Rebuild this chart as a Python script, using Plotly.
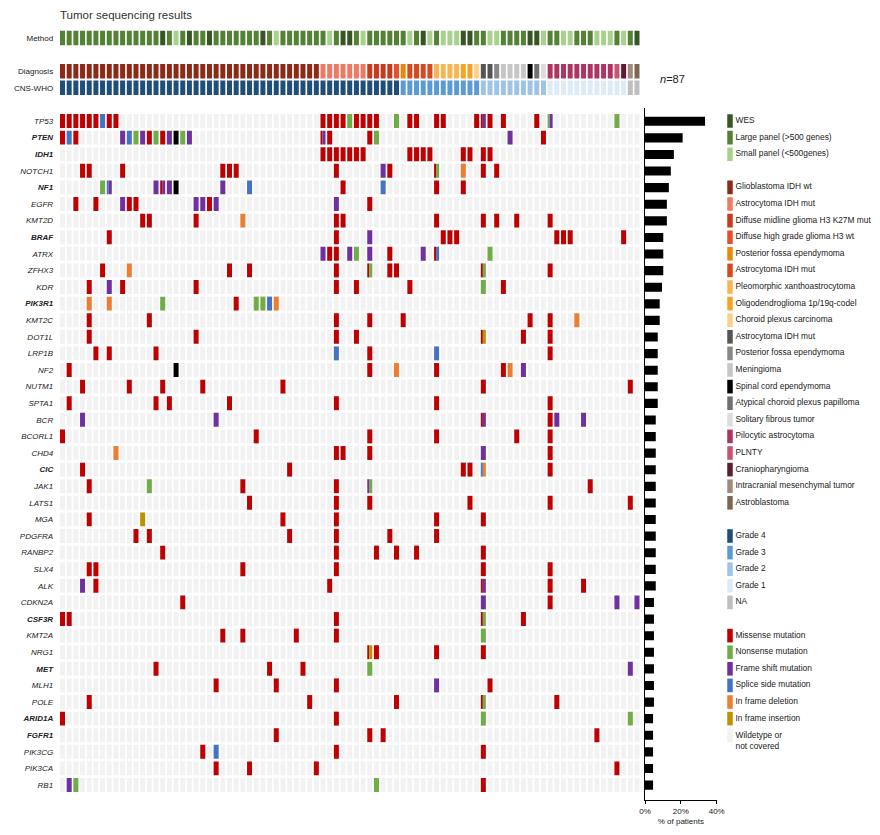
import plotly.graph_objects as go

# ---------------- DATA ----------------
genes = ["TP53", "PTEN", "IDH1", "NOTCH1", "NF1", "EGFR", "KMT2D", "BRAF", "ATRX", "ZFHX3",
         "KDR", "PIK3R1", "KMT2C", "DOT1L", "LRP1B", "NF2", "NUTM1", "SPTA1", "BCR", "BCORL1",
         "CHD4", "CIC", "JAK1", "LATS1", "MGA", "PDGFRA", "RANBP2", "SLX4", "ALK", "CDKN2A",
         "CSF3R", "KMT2A", "NRG1", "MET", "MLH1", "POLE", "ARID1A", "FGFR1", "PIK3CG", "PIK3CA", "RB1"]
bold_genes = ["PTEN", "IDH1", "NF1", "BRAF", "PIK3R1", "CIC", "CSF3R", "MET", "ARID1A", "FGFR1"]

# % of patients
pct_patients = [33.5, 21.0, 16.1, 14.4, 13.3, 12.2, 12.2, 10.2, 10.2, 10.2,
                9.5, 8.2, 8.2, 7.1, 7.1, 7.1, 7.1, 7.1, 6.0, 6.0,
                6.0, 6.0, 6.0, 6.0, 6.0, 6.0, 6.0, 6.0, 6.0, 5.0,
                5.0, 5.0, 5.0, 5.0, 5.0, 5.0, 4.5, 4.5, 4.5, 4.5, 4.5]

# Mutation calls per gene: "column:type" (split cells "type1/type2")
# M missense, N nonsense, F frame shift, S splice, D in-frame deletion, I in-frame insertion, X other
mutation_calls = [
    "0:M 1:M 2:M 3:M 4:M 5:M 6:S 7:M 8:M 39:M 40:M 41:M 42:M 43:N 44:M 45:M 46:M 47:M 50:N 52:M 53:M 56:M 57:M 62:M 63:M/F 64:M 66:M 71:M 73:N/F 83:N",
    "0:M 1:S 2:M 9:F 10:S 11:N 12:F 13:M 14:N 15:M 16:F 17:X 18:N 19:F 39:M/F 40:M 46:M 47:N 67:F 72:M",
    "39:M 40:M 41:M 42:M 43:M 44:M 45:M 52:M 53:M 54:M 55:M 60:M 61:M 63:M 64:M",
    "3:M 4:M 9:M 24:M 25:M 26:M 41:M 48:F 49:M 56:M/N 60:D 63:M 65:M",
    "6:N 7:S/F 14:F 15:M/F 16:F 17:X 24:F 28:S 42:M 48:S 56:M 60:M",
    "2:M 5:M 9:F 10:M 11:M 20:F 21:F 22:M 23:F 41:F 46:M",
    "12:M 13:M 20:M 27:D 41:M 42:M 56:M 63:M 65:M 68:M 73:M",
    "7:M 41:M 46:F 57:M 58:M 59:M 74:M 75:M 76:M 84:M",
    "39:F 40:M 41:M 43:F 44:N 46:F 49:M 54:F 56:M/S 64:N",
    "6:M 10:D 25:M 28:M 41:M 46:M/N 49:M 50:M 63:M/N 73:M",
    "4:M 7:F 9:M 20:M 41:M 44:M 52:M 63:N 66:M",
    "4:D 7:D 15:N 26:M 29:N 30:N 31:S 32:D",
    "4:M 13:M 41:M 46:M 51:M 70:M 73:M 77:D",
    "4:M 20:M 41:M 44:M 63:M/I 69:M 73:M",
    "5:M 7:M 14:M 41:S 46:M 56:S 73:M",
    "1:M 17:X 46:M 50:D 56:M 66:M 67:D 69:F",
    "3:M 10:M 15:M 21:M 33:M 63:M 85:M",
    "1:M 14:M 16:M 25:M 41:M 56:M 73:M",
    "3:F 23:F 63:M/F 73:M 74:F 78:F",
    "0:M 29:M 46:M 56:M 68:M 73:M",
    "8:D 41:M 42:M 46:M 63:F 73:M",
    "3:M 34:M 60:M 61:M 63:S/D 73:M",
    "4:M 13:N 27:M 41:M 46:F/N 79:M",
    "28:M 41:M 46:M 61:M 73:M 85:M",
    "4:M 12:I 33:M 41:M 56:M 63:M",
    "11:M 13:M 34:M 41:M 49:M 56:M",
    "15:M 41:M 47:M 50:M 53:M 63:M",
    "4:M 5:M 27:M 41:M 63:M 73:M",
    "3:F 5:M 40:M 63:M/F 73:M 78:M",
    "18:M 63:F 73:M 83:F 86:F",
    "0:M 1:M 41:M 63:M/N 69:M",
    "24:M 27:M 35:M 41:M 63:N",
    "46:M/I 47:M 56:M 63:M",
    "14:M 31:M 36:M 46:N 85:F",
    "23:M 32:M 41:M 56:F 64:M",
    "4:M 37:M 50:M 63:M/N 74:M",
    "0:M 41:M 63:N 85:N",
    "32:M 46:M 48:M 80:M",
    "21:M 23:S 41:M 63:M",
    "23:M 28:M 38:M 83:M",
    "1:F 2:N 47:N 63:M",
]

# Sequencing method per patient: W = WES, L = large panel, S = small panel
method = list("LLLLLLLLLLLLLLLWLSLWLLWLLLLLLLWLSLLLLLLLSLWWLSLLLLLLSLWSLSSSWWLLSSLLLLWWSLLSSLLLSSSLSLW")

# Diagnosis per patient (index into diagnosis_labels)
diagnosis = ([0] * 39 + [1] * 7 + [2] * 4 + [3] + [4] + [5] * 4 + [6] * 4 + [7] * 2 + [8] +
             [9] * 2 + [10] + [11] * 4 + [12] + [13] + [14] + [15] * 10 + [16] + [17] + [18] + [19])

# CNS-WHO grade per patient
grade = ["4"] * 51 + ["3"] * 12 + ["2"] * 10 + ["1"] * 12 + ["NA"] * 2

method_labels = ["WES", "Large panel (>500 genes)", "Small panel (<500genes)"]
method_codes = ["W", "L", "S"]
method_colors = ["#375623", "#548235", "#A9D18E"]

diagnosis_labels = ["Glioblastoma IDH wt", "Astrocytoma IDH mut", "Diffuse midline glioma H3 K27M mut",
                    "Diffuse high grade glioma H3 wt", "Posterior fossa ependymoma", "Astrocytoma IDH mut",
                    "Pleomorphic xanthoastrocytoma", "Oligodendroglioma 1p/19q-codel", "Choroid plexus carcinoma",
                    "Astrocytoma IDH mut", "Posterior fossa ependymoma", "Meningioma", "Spinal cord ependymoma",
                    "Atypical choroid plexus papilloma", "Solitary fibrous tumor", "Pilocytic astrocytoma",
                    "PLNTY", "Craniopharyngioma", "Intracranial mesenchymal tumor", "Astroblastoma"]
diagnosis_colors = ["#8C2A17", "#EE7A64", "#C9391C", "#E5512D", "#E8890C", "#D64A1F",
                    "#F9B552", "#F4A424", "#FCD08C", "#555555", "#888888", "#C6C6C6", "#000000",
                    "#707070", "#DCDCDC", "#AD3560", "#CB5275", "#5C1D30", "#A08B7E", "#7B6854"]

grade_codes = ["4", "3", "2", "1", "NA"]
grade_labels = ["Grade 4", "Grade 3", "Grade 2", "Grade 1", "NA"]
grade_colors = ["#1F4E79", "#5B9BD5", "#9DC3E6", "#DDEBF7", "#BFBFBF"]

mut_codes = ["M", "N", "F", "S", "D", "I"]
mut_labels = ["Missense mutation", "Nonsense mutation", "Frame shift mutation", "Splice side mutation",
              "In frame deletion", "In frame insertion"]
mut_colors = ["#C00000", "#70AD47", "#7030A0", "#4472C4", "#ED7D31", "#BF9000"]
other_color = "#000000"
wt_label = "Wildetype or<br>not covered"
wt_color = "#F2F2F2"

# ---------------- FIGURE ----------------
W, H = 880, 835
FONT = "Liberation Sans, Arial, sans-serif"
TXT = "#222222"
n_cols = len(method)
CW = 0.75      # cell width (column units)
CH = 0.84      # cell height (row units)
HH = 0.87      # header cell height
SPLIT = 0.4    # fraction of first part in split cells
ROW_METHOD, ROW_DIAG, ROW_GRADE = -5, -3, -2

# pixel geometry
row0_px, row_pitch = 121.0, 16.6
col0_px, col_pitch = 62.5, 6.68


def ydom(top_row, bottom_row):
    top = row0_px + top_row * row_pitch
    bot = row0_px + bottom_row * row_pitch
    return [1 - bot / H, 1 - top / H]


def xdom(left_col, right_col):
    return [(col0_px + left_col * col_pitch) / W, (col0_px + right_col * col_pitch) / W]


fig = go.Figure()
common = dict(hoverinfo="skip", showlegend=False)

# wildtype background cells
bg_x, bg_base = [], []
for r in range(len(genes)):
    for c in range(n_cols):
        bg_x.append(c)
        bg_base.append(r - CH / 2)
fig.add_trace(go.Bar(x=bg_x, y=[CH] * len(bg_x), base=bg_base, width=CW,
                     marker=dict(color=wt_color, line=dict(width=0)), xaxis="x", yaxis="y", **common))

# mutation cells
all_codes = mut_codes + ["X"]
all_colors = mut_colors + [other_color]
segs = {k: {"x": [], "w": [], "b": []} for k in all_codes}
for r, calls in enumerate(mutation_calls):
    for tok in calls.split():
        col, kinds = tok.split(":")
        c = int(col)
        parts = kinds.split("/")
        if len(parts) == 1:
            segs[parts[0]]["x"].append(c)
            segs[parts[0]]["w"].append(CW)
            segs[parts[0]]["b"].append(r - CH / 2)
        else:
            w1 = CW * SPLIT
            w2 = CW - w1
            left = c - CW / 2
            segs[parts[0]]["x"].append(left + w1 / 2)
            segs[parts[0]]["w"].append(w1)
            segs[parts[0]]["b"].append(r - CH / 2)
            segs[parts[1]]["x"].append(left + w1 + w2 / 2)
            segs[parts[1]]["w"].append(w2)
            segs[parts[1]]["b"].append(r - CH / 2)
for k, col in zip(all_codes, all_colors):
    s = segs[k]
    if not s["x"]:
        continue
    fig.add_trace(go.Bar(x=s["x"], y=[CH] * len(s["x"]), base=s["b"], width=s["w"],
                         marker=dict(color=col, line=dict(width=0)), xaxis="x", yaxis="y", **common))

# header rows
cols = list(range(n_cols))
m_col = [method_colors[method_codes.index(m)] for m in method]
d_col = [diagnosis_colors[d] for d in diagnosis]
g_col = [grade_colors[grade_codes.index(g)] for g in grade]
for rowpos, colors in [(ROW_METHOD, m_col), (ROW_DIAG, d_col), (ROW_GRADE, g_col)]:
    fig.add_trace(go.Bar(x=cols, y=[HH] * n_cols, base=[rowpos - HH / 2] * n_cols, width=CW,
                         marker=dict(color=colors, line=dict(width=0)), xaxis="x", yaxis="y", **common))

# % of patients bar chart
fig.add_trace(go.Bar(x=pct_patients, y=list(range(len(genes))), orientation="h", width=0.55,
                     marker=dict(color="#000000", line=dict(width=0)), xaxis="x2", yaxis="y2", **common))

# legend (swatches + text) on its own axis
leg_labels, leg_colors, leg_rows = [], [], []
slot = 0
for labels, colors in [(method_labels, method_colors), (diagnosis_labels, diagnosis_colors),
                       (grade_labels, grade_colors), (mut_labels + [wt_label], mut_colors + [wt_color])]:
    for lab, colr in zip(labels, colors):
        leg_labels.append(lab)
        leg_colors.append(colr)
        leg_rows.append(slot)
        slot += 1
    slot += 1
fig.add_trace(go.Bar(x=[730] * len(leg_rows), y=[0.82] * len(leg_rows), base=[r - 0.41 for r in leg_rows],
                     width=5.5, marker=dict(color=leg_colors, line=dict(width=0)),
                     xaxis="x3", yaxis="y3", **common))
fig.add_trace(go.Scatter(x=[735.5] * len(leg_rows),
                         y=[r + (0.35 if "<br>" in lab else 0) for r, lab in zip(leg_rows, leg_labels)],
                         text=leg_labels, mode="text", textposition="middle right",
                         textfont=dict(size=8.4, color=TXT, family=FONT),
                         xaxis="x3", yaxis="y3", **common))

# y tick labels
tickvals = [ROW_METHOD, ROW_DIAG, ROW_GRADE] + list(range(len(genes)))
ticktext = ["Method", "Diagnosis", "CNS-WHO"] + [
    ("<b><i>%s</i></b>" % g) if g in bold_genes else ("<i>%s</i>" % g) for g in genes]

y_range = [40.5, -5.5]
fig.update_layout(
    template="none",
    width=W, height=H,
    margin=dict(l=0, r=0, t=0, b=0, autoexpand=False),
    paper_bgcolor="white", plot_bgcolor="white",
    barmode="overlay",
    font=dict(family=FONT, size=8, color=TXT),
    xaxis=dict(domain=xdom(-0.5, n_cols - 0.5), range=[-0.5, n_cols - 0.5], showgrid=False, zeroline=False,
               showticklabels=False, showline=False, ticks="", anchor="y", automargin=False),
    yaxis=dict(domain=ydom(-5.5, 40.5), range=y_range, autorange=False, showgrid=False, zeroline=False,
               tickvals=tickvals, ticktext=ticktext, ticks="", showline=False,
               tickfont=dict(size=8, color=TXT, family=FONT), ticklabelstandoff=5, anchor="x",
               automargin=False),
    xaxis2=dict(domain=[645 / W, 716.7 / W], range=[0, 40], showgrid=False, zeroline=False,
                tickvals=[0, 20, 40], ticktext=["0%", "20%", "40%"], ticks="outside", ticklen=3,
                tickwidth=1, tickcolor="#000000", showline=True, linecolor="#000000", linewidth=1,
                tickfont=dict(size=8, color=TXT), anchor="y2", automargin=False,
                title=dict(text="% of patients", font=dict(size=8, color=TXT), standoff=3)),
    yaxis2=dict(domain=[1 - 800 / H, 1 - 108 / H], range=[40.9, -0.8], autorange=False,
                showgrid=False, zeroline=False, showticklabels=False, ticks="",
                showline=True, linecolor="#000000", linewidth=1, anchor="x2", automargin=False),
    xaxis3=dict(domain=[720 / W, 1.0], range=[720, 880], visible=False, anchor="y3", automargin=False),
    yaxis3=dict(domain=ydom(-5.5, 40.5), range=y_range, autorange=False, visible=False, anchor="x3",
                automargin=False),
    annotations=[
        dict(text="Tumor sequencing results", x=58 / W, y=1 - 15 / H, xref="paper", yref="paper",
             xanchor="left", yanchor="middle", showarrow=False, font=dict(size=11.5, color="#333333")),
        dict(text="<i>n</i>=87", x=658 / W, y=1 - 79 / H, xref="paper", yref="paper",
             xanchor="left", yanchor="middle", showarrow=False, font=dict(size=11, color=TXT)),
    ],
)

fig.write_html("out.html", config={"displayModeBar": False, "staticPlot": True},
               post_script="document.body.style.margin='0px';")
